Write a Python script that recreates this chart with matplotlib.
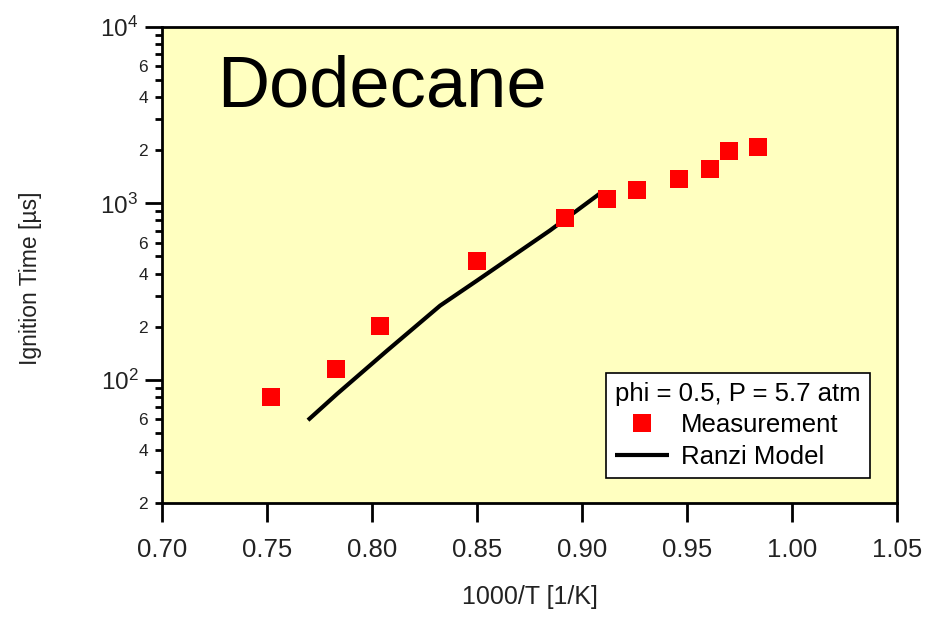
import math
import matplotlib
matplotlib.use("Agg")
import matplotlib.pyplot as plt
from matplotlib.ticker import FixedLocator, FuncFormatter

plt.rcParams['font.family'] = ['Liberation Sans', 'DejaVu Sans']

# Measurement points
meas_x = [0.752, 0.783, 0.804, 0.850, 0.892, 0.912, 0.926, 0.946, 0.961, 0.970, 0.984]
meas_y = [80, 115, 203, 474, 830, 1054, 1186, 1369, 1560, 1974, 2080]

# Ranzi model curve
model_x = [0.7695, 0.7833, 0.8071, 0.8324, 0.850, 0.8848, 0.9086]
model_y = [59, 83, 146, 263, 365, 703, 1140]

xticks = [0.70, 0.75, 0.80, 0.85, 0.90, 0.95, 1.00, 1.05]

fig = plt.figure(figsize=(9.29, 6.21), dpi=100)
ax = fig.add_axes([0.1744, 0.19, 0.7912, 0.7665])
ax.set_facecolor('#FFFFC0')

meas, = ax.plot(meas_x, meas_y, 's', color='#FF0000', ms=12.5, mew=0,
                label='Measurement', zorder=3)
model, = ax.plot(model_x, model_y, color='black', lw=3.0, solid_capstyle='butt',
                 label='Ranzi Model', zorder=2)

ax.set_yscale('log')
ax.set_xlim(0.70, 1.05)
ax.set_ylim(20, 10000)

ax.set_xticks(xticks)
ax.set_xticklabels(['%.2f' % v for v in xticks])

ax.yaxis.set_major_locator(FixedLocator([100, 1000, 10000]))
ax.yaxis.set_major_formatter(FuncFormatter(
    lambda v, p: '$\\mathregular{10^{%d}}$' % round(math.log10(v))))
minors = [m * d for d in (10, 100, 1000) for m in range(2, 10)]
ax.yaxis.set_minor_locator(FixedLocator(minors))


def minor_fmt(v, p):
    lead = round(v / 10 ** math.floor(math.log10(v) + 1e-9))
    return str(lead) if lead in (2, 4, 6) else ''


ax.yaxis.set_minor_formatter(FuncFormatter(minor_fmt))

ax.tick_params(axis='x', which='major', direction='out', length=13.5, width=2,
               labelsize=18.5, pad=12, labelcolor='#222222')
ax.tick_params(axis='y', which='major', direction='out', length=12, width=2,
               labelsize=17.5, pad=5, labelcolor='#222222')
ax.tick_params(axis='y', which='minor', direction='out', length=5, width=2,
               labelsize=12.5, pad=5, labelcolor='#222222')

for s in ax.spines.values():
    s.set_linewidth(2)

ax.set_xlabel('1000/T [1/K]', fontsize=18, color='#222222', va='top')
ax.xaxis.set_label_coords(0.5, -0.172)
ax.set_ylabel('Ignition Time [µs]', fontsize=16.5, color='#222222')
ax.yaxis.set_label_coords(-0.163, 0.473)

ax.text(0.0748, 0.832, 'Dodecane', transform=ax.transAxes, fontsize=52,
        va='baseline', ha='left')

leg = ax.legend(handles=[meas, model], loc='lower right',
                bbox_to_anchor=(0.963, 0.0525), borderaxespad=0,
                title='phi = 0.5, P = 5.7 atm', fontsize=18.5,
                title_fontsize=18.5, fancybox=False, framealpha=1,
                edgecolor='black', borderpad=0.35, handlelength=2.1,
                labelspacing=0.3, handletextpad=0.45, alignment='left')
leg.get_frame().set_linewidth(1.2)

fig.savefig('out.png', dpi=100)
